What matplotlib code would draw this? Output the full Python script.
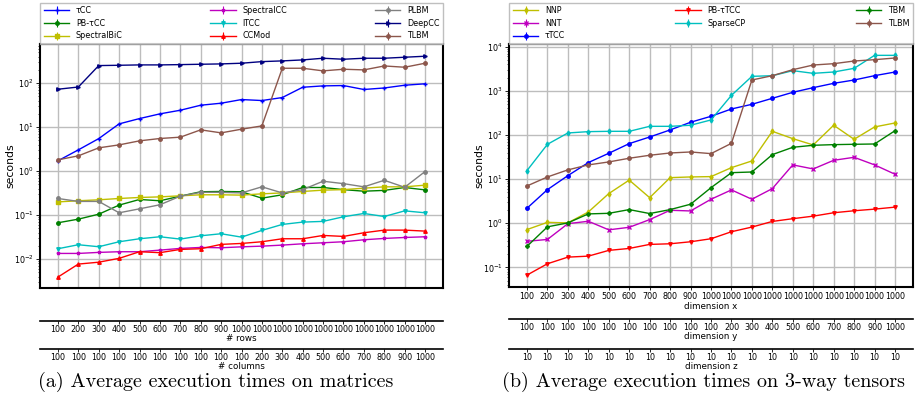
import numpy as np
import matplotlib
matplotlib.use("Agg")
import matplotlib.pyplot as plt

# ---- panel (a): matrices ----
rows = [100, 200, 300, 400, 500, 600, 700, 800, 900, 1000,
        1000, 1000, 1000, 1000, 1000, 1000, 1000, 1000, 1000]
columns = [100, 100, 100, 100, 100, 100, 100, 100, 100, 100,
           200, 300, 400, 500, 600, 700, 800, 900, 1000]

tcc = [1.72, 3.05, 5.5, 11.9, 15.7, 20.1, 24.3, 31.6, 35.1, 42.5,
       40.4, 47.2, 81, 87, 88.5, 72, 78, 90, 97]
pb_tcc = [0.067, 0.081, 0.105, 0.169, 0.227, 0.212, 0.27, 0.34, 0.345, 0.34,
          0.243, 0.29, 0.425, 0.425, 0.38, 0.35, 0.365, 0.425, 0.375]
spectral_bic = [0.20, 0.212, 0.223, 0.239, 0.252, 0.26, 0.275, 0.29, 0.29, 0.285,
                0.305, 0.32, 0.345, 0.37, 0.38, 0.41, 0.44, 0.44, 0.48]
spectral_cc = [0.01345, 0.01345, 0.0142, 0.0147, 0.0147, 0.016, 0.0175, 0.0184, 0.0181, 0.019,
               0.0197, 0.0208, 0.0223, 0.0235, 0.0248, 0.0275, 0.0295, 0.031, 0.0322]
itcc = [0.0172, 0.0212, 0.0191, 0.0248, 0.029, 0.0322, 0.0285, 0.0339, 0.0377, 0.0316,
        0.0449, 0.0614, 0.0694, 0.072, 0.0917, 0.109, 0.093, 0.125, 0.113]
ccmod = [0.0039, 0.0077, 0.0085, 0.0104, 0.0147, 0.014, 0.0166, 0.0172, 0.0216, 0.0227,
         0.0248, 0.029, 0.029, 0.0345, 0.0328, 0.0397, 0.0456, 0.0456, 0.0433]
plbm = [0.239, 0.205, 0.205, 0.113, 0.139, 0.172, 0.27, 0.33, 0.33, 0.32,
        0.44, 0.32, 0.38, 0.59, 0.52, 0.44, 0.62, 0.43, 0.98]
deepcc = [73, 82, 252, 256, 261, 261, 265, 270, 275, 285,
          310, 322, 339, 370, 351, 370, 370, 390, 411]
tlbm_mat = [1.81, 2.23, 3.39, 3.96, 4.89, 5.53, 5.93, 8.7, 7.43, 9.0,
            10.7, 219, 219, 191, 208, 201, 247, 231, 285]

# ---- panel (b): 3-way tensors ----
dim_x = [100, 200, 300, 400, 500, 600, 700, 800, 900, 1000,
         1000, 1000, 1000, 1000, 1000, 1000, 1000, 1000, 1000]
dim_y = [100, 100, 100, 100, 100, 100, 100, 100, 100, 100,
         200, 300, 400, 500, 600, 700, 800, 900, 1000]
dim_z = [10] * 19

nnp = [0.72, 1.05, 1.02, 1.8, 4.7, 9.5, 3.8, 10.8, 11.2, 11.4,
       18.2, 25.8, 121, 82.6, 59.4, 166, 79.8, 152, 187]
nnt = [0.39, 0.43, 0.98, 1.11, 0.71, 0.81, 1.21, 1.97, 1.9, 3.5,
       5.7, 3.5, 6.1, 21, 17, 26.7, 31.2, 21, 12.9]
ttcc = [2.19, 5.78, 12, 23.7, 38.5, 63.7, 90, 130, 194, 265,
        388, 495, 677, 925, 1180, 1479, 1758, 2204, 2667]
pb_ttcc = [0.067, 0.121, 0.171, 0.18, 0.243, 0.269, 0.332, 0.343, 0.381, 0.446,
           0.643, 0.82, 1.1, 1.27, 1.45, 1.73, 1.92, 2.09, 2.32]
sparse_cp = [15.6, 61.5, 111, 119, 121, 121, 157, 157, 166, 219,
             791, 2128, 2200, 2864, 2490, 2670, 3230, 6365, 6365]
tbm = [0.30, 0.83, 1.02, 1.63, 1.68, 2.04, 1.66, 2.04, 2.7, 6.4,
       14, 14.5, 35.9, 52.6, 58.4, 60.4, 61.5, 62.5, 125]
tlbm_ten = [7.0, 11.2, 16.2, 21, 24.5, 29.7, 34.7, 39.1, 41.2, 37.8,
            64.7, 1758, 2204, 3011, 3843, 4120, 4733, 5077, 5540]

series_a = [
    ("τCC", tcc, "blue", "+"),
    ("PB-τCC", pb_tcc, "green", "o"),
    ("SpectralBiC", spectral_bic, "#bfbf00", "s"),
    ("SpectralCC", spectral_cc, "m", "*"),
    ("ITCC", itcc, "c", "v"),
    ("CCMod", ccmod, "red", "^"),
    ("PLBM", plbm, "gray", "o"),
    ("DeepCC", deepcc, "navy", ">"),
    ("TLBM", tlbm_mat, "#8c564b", "o"),
]
series_b = [
    ("NNP", nnp, "#bfbf00", "d"),
    ("NNT", nnt, "m", "x"),
    ("τTCC", ttcc, "blue", "o"),
    ("PB-τTCC", pb_ttcc, "red", "v"),
    ("SparseCP", sparse_cp, "c", "d"),
    ("TBM", tbm, "green", "P"),
    ("TLBM", tlbm_ten, "#8c564b", "o"),
]

FS = 5.8
W, H = 916, 403

fig = plt.figure(figsize=(W / 100, H / 100), dpi=100)


def frac(left, top, right, bottom):
    return [left / W, 1 - bottom / H, (right - left) / W, (bottom - top) / H]


def axis_row(rect, labels, title):
    """Extra x axis below the plot: only the bottom line, ticks and labels."""
    ax = fig.add_axes(rect)
    ax.set_xlim(-0.88, len(labels) - 1 + 0.88)
    ax.set_yticks([])
    for side in ("top", "left", "right"):
        ax.spines[side].set_visible(False)
    ax.spines["bottom"].set_linewidth(1.2)
    ax.patch.set_alpha(0)
    ax.set_xticks(range(len(labels)))
    ax.set_xticklabels([str(v) for v in labels], fontsize=FS)
    ax.tick_params(axis="x", length=2, width=0.6, pad=1)
    ax.set_xlabel(title, fontsize=6.3, labelpad=0)
    return ax


def panel(rect, series, ylim, first_labels=None, first_title=None):
    ax = fig.add_axes(rect)
    n = len(series[0][1])
    xs = np.arange(n)
    for name, vals, color, marker in series:
        ax.errorbar(xs, vals, yerr=np.zeros(n), color=color, marker=marker,
                    markersize=2.5, lw=1.0, elinewidth=0.8, label=name)
    ax.set_yscale("log")
    ax.set_ylim(*ylim)
    ax.set_xlim(-0.88, n - 1 + 0.88)
    ax.set_xticks(xs)
    if first_labels is None:
        ax.set_xticklabels([])
        ax.tick_params(axis="x", length=0)
    else:
        ax.set_xticklabels([str(v) for v in first_labels], fontsize=FS)
        ax.tick_params(axis="x", length=2, width=0.6, pad=1.5)
        ax.set_xlabel(first_title, fontsize=6.3, labelpad=1)
    ax.tick_params(axis="y", which="major", labelsize=FS, length=3, width=0.6, pad=1.5)
    ax.tick_params(axis="y", which="minor", length=1.5, width=0.5)
    ax.grid(True, which="major", color="#bdbdbd", lw=1.0)
    for sp in ax.spines.values():
        sp.set_linewidth(1.5)
    ax.set_ylabel("seconds", fontsize=7.8, labelpad=-1)
    ax.legend(loc="lower left", bbox_to_anchor=(0, 1.0, 1, 0.15), mode="expand",
              ncol=3, fontsize=FS, borderaxespad=0.05, fancybox=False,
              handlelength=3.2, labelspacing=0.45, frameon=True, edgecolor="#b0b0b0")
    return ax


# panel (a)
panel(frac(40, 44, 443, 288), series_a, (0.0022, 780))
axis_row(frac(40, 311, 443, 321), rows, "# rows")
axis_row(frac(40, 339, 443, 349), columns, "# columns")
fig.text(216 / W, 1 - 382 / H, "(a) Average execution times on matrices",
         ha="center", va="center", fontsize=14.5, family="cmr10")

# panel (b)
panel(frac(509, 44, 913, 287), series_b, (0.036, 11500), dim_x, "dimension x")
axis_row(frac(509, 309, 913, 319), dim_y, "dimension y")
axis_row(frac(509, 339, 913, 349), dim_z, "dimension z")
fig.text(704 / W, 1 - 382 / H, "(b) Average execution times on 3-way tensors",
         ha="center", va="center", fontsize=14.5, family="cmr10")

fig.savefig("out.png", dpi=100)
